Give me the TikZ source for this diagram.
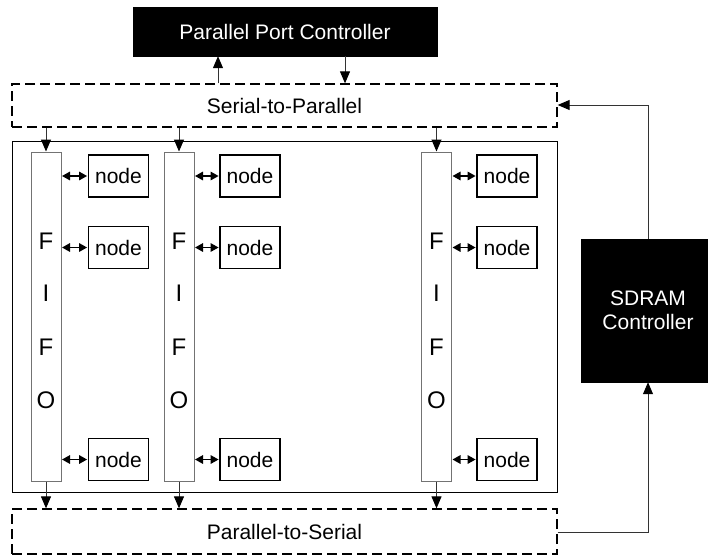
\documentclass[tikz,border=0pt]{standalone}
\usepackage{fontspec}
\setmainfont{Liberation Sans}
\usetikzlibrary{arrows.meta}
\tikzset{
  every node/.style={font=\fontsize{21}{24}\selectfont, inner sep=0pt},
  blackbox/.style={draw=black, fill=black, text=white, rectangle},
  dashbox/.style={draw=black, line width=1.3pt, dash pattern=on 10pt off 5pt, rectangle},
  fifobox/.style={draw=black!55, line width=1pt, fill=white, rectangle, minimum width=30pt, minimum height=329pt},
  nodebox/.style={draw=black, line width=1.8pt, rectangle, minimum width=60pt, minimum height=42pt},
  fifoletter/.style={font=\fontsize{24}{26}\selectfont},
  conn/.style={draw=black!80, line width=1pt},
  arr/.style={conn, -{Triangle[length=12pt,width=10pt,color=black]}},
  darr/.style={draw=black, line width=1.5pt, {Triangle[length=8pt,width=8.5pt]}-{Triangle[length=8pt,width=8.5pt]}, shorten <=0.5pt, shorten >=0.5pt}
}
\begin{document}
\begin{tikzpicture}[x=1pt,y=-1pt]
\useasboundingbox (0,0) rectangle (708,555);
% top controller
\node[blackbox, minimum width=304pt, minimum height=49pt] (ppc) at (285,31.5) {Parallel Port Controller};
% serial-to-parallel
\node[dashbox, minimum width=545pt, minimum height=43pt] (s2p) at (284.5,105.5) {Serial-to-Parallel};
% outer box
\node[draw=black, line width=1pt, rectangle, minimum width=545pt, minimum height=351pt] (outer) at (284.5,316.5) {};
% parallel-to-serial
\node[dashbox, minimum width=545pt, minimum height=45pt] (p2s) at (284.5,531.5) {Parallel-to-Serial};
% SDRAM
\node[blackbox, minimum width=128pt, minimum height=143pt] (sdram) at (645,310.5) {};
\node[text=white, align=center] (sdramlbl) at (648,310.5) {SDRAM\\Controller};

% FIFO columns
\foreach \i/\x in {1/46,2/179,3/436.5}{
  \node[fifobox] (fifo\i) at (\x,316.5) {};
  \node[fifoletter] (f\i a) at (\x,241) {F};
  \node[fifoletter] (f\i b) at (\x,293.5) {I};
  \node[fifoletter] (f\i c) at (\x,347) {F};
  \node[fifoletter] (f\i d) at (\x,400) {O};
}
% nodes
\foreach \i/\x in {1/118.5,2/250,3/507}{
  \node[nodebox] (n\i a) at (\x,176) {node};
  \node[nodebox] (n\i b) at (\x,247.5) {node};
  \node[nodebox] (n\i c) at (\x,459.5) {node};
  \foreach \r in {a,b,c}{
    \draw[darr] (fifo\i.east |- n\i\r.west) -- (n\i\r.west);
  }
  \draw[arr] (s2p.south -| fifo\i.north) -- (fifo\i.north);
  \draw[arr] (fifo\i.south) -- (p2s.north -| fifo\i.south);
}
% port controller links
\coordinate (pup) at (218,0);
\coordinate (pdn) at (345,0);
\draw[arr] (s2p.north -| pup) -- (ppc.south -| pup);
\draw[arr] (ppc.south -| pdn) -- (s2p.north -| pdn);
% SDRAM loop
\coordinate (loopbot) at (648,532);
\coordinate (looptop) at (648,105);
\draw[arr] (p2s.east |- loopbot) -- (loopbot) -- (sdram.south -| loopbot);
\draw[arr] (sdram.north -| looptop) -- (looptop) -- (s2p.east |- looptop);
\end{tikzpicture}
\end{document}
